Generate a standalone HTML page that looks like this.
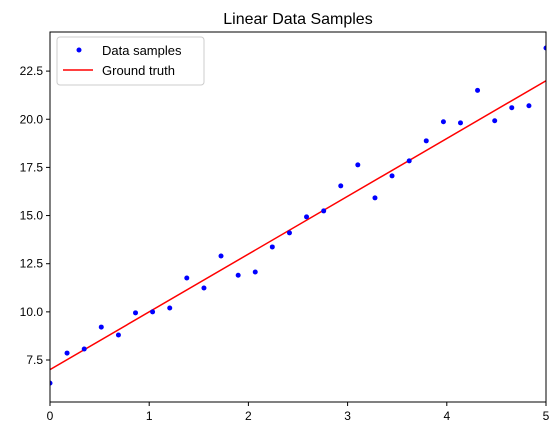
<!DOCTYPE html>
<html><head><meta charset="utf-8"><style>
body{margin:0;background:#fff;font-family:"Liberation Sans","DejaVu Sans",sans-serif}
</style></head><body>
<svg width="560" height="435" xmlns="http://www.w3.org/2000/svg">
<rect width="560" height="435" fill="#fff"/>
<text x="298" y="24" text-anchor="middle" font-size="16">Linear Data Samples</text>
<g id="plot"></g>
</svg>
<script>
const xs=[0,0.172,0.345,0.517,0.690,0.862,1.034,1.207,1.379,1.552,1.724,1.897,2.069,2.241,2.414,2.586,2.759,2.931,3.103,3.276,3.448,3.621,3.793,3.966,4.138,4.310,4.483,4.655,4.828,5.0];
const ys=[6.3,7.86,8.07,9.21,8.8,9.95,10.0,10.2,11.76,11.24,12.9,11.9,12.07,13.37,14.1,14.93,15.24,16.54,17.63,15.92,17.06,17.84,18.88,19.87,19.81,21.5,19.92,20.6,20.7,23.7];
const truthX=[0,5];
const truthY=[7,22];
const xTicks=[0,1,2,3,4,5];
const yTicks=[7.5,10.0,12.5,15.0,17.5,20.0,22.5];
const L=50,R=546,T=32,B=402,xmin=0,xmax=5,ymin=5.32,ymax=24.53;
const X=v=>L+(v-xmin)/(xmax-xmin)*(R-L);
const Y=v=>B-(v-ymin)/(ymax-ymin)*(B-T);
const NS="http://www.w3.org/2000/svg";
const g=document.getElementById('plot');
function mk(t,a){const e=document.createElementNS(NS,t);for(const k in a)e.setAttribute(k,a[k]);g.appendChild(e);return e;}
xTicks.forEach(v=>{
 const l=mk('line',{x1:X(v),x2:X(v),y1:B,y2:B+4,stroke:'#000'});
 
 
 const t=mk('text',{x:X(v),y:B+18,'text-anchor':'middle','font-size':12});t.textContent=v;
 
 
});
yTicks.forEach(v=>{
 const l=mk('line',{x1:L-4,x2:L,y1:Y(v),y2:Y(v),stroke:'#000'});
 
 
 const t=mk('text',{x:L-7,y:Y(v)+4,'text-anchor':'end','font-size':12});t.textContent=v.toFixed(1);
 
 
});
const cp=mk('clipPath',{id:'c'});const cr=document.createElementNS(NS,'rect');
cr.setAttribute('x',L);cr.setAttribute('y',T);cr.setAttribute('width',R-L);cr.setAttribute('height',B-T);cp.appendChild(cr);
const gl=mk('line',{x1:X(truthX[0]),y1:Y(truthY[0]),x2:X(truthX[1]),y2:Y(truthY[1]),stroke:'#f00','stroke-width':1.5,'clip-path':'url(#c)'});


xs.forEach((x,i)=>{
 const c=mk('circle',{cx:X(x),cy:Y(ys[i]),r:2.5,fill:'#00f','clip-path':'url(#c)'});
 
 
});
const fr=mk('rect',{x:L,y:T,width:R-L,height:B-T,fill:'none',stroke:'#000','stroke-width':1});


const lg=mk('rect',{x:57,y:37,width:147,height:48,rx:3,fill:'#fff',stroke:'#ccc'});


const ld=mk('circle',{cx:79,cy:50,r:2.5,fill:'#00f'});


const t1=mk('text',{x:102,y:55,'font-size':13});t1.textContent='Data samples';


const ll=mk('line',{x1:63,x2:93,y1:70,y2:70,stroke:'#f00','stroke-width':1.5});


const t2=mk('text',{x:102,y:75,'font-size':13});t2.textContent='Ground truth';


</script>
</body></html>
